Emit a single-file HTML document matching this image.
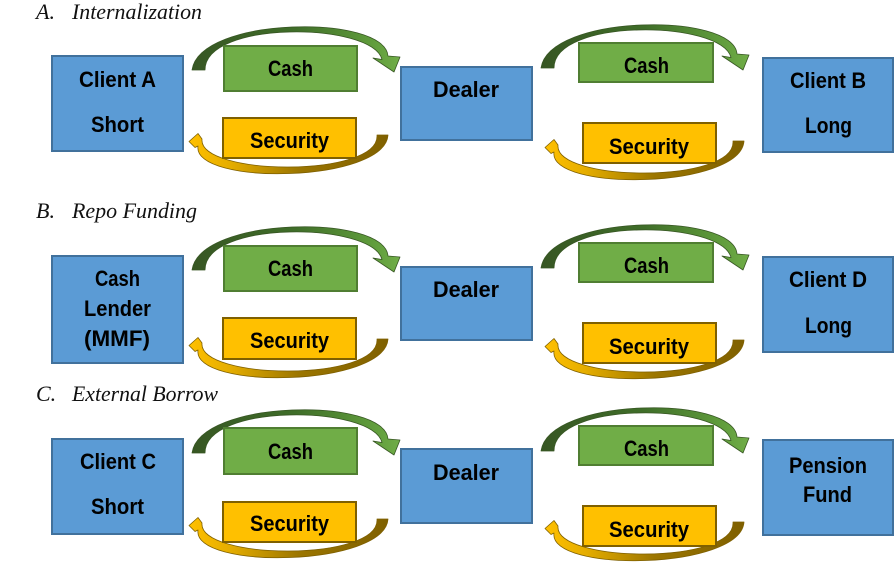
<!DOCTYPE html>
<html>
<head>
<meta charset="utf-8">
<style>
  html, body { margin:0; padding:0; background:#fff; }
  svg { display:block; }
  .t { font-family:"Liberation Serif", serif; font-style:italic; font-size:22px; fill:#111; }
  .b { font-family:"Liberation Sans", sans-serif; font-weight:bold; font-size:22px; fill:#000; }
  .blue { fill:#5B9BD5; stroke:#41719C; stroke-width:2; }
  .green { fill:#70AD47; stroke:#507E32; stroke-width:2; }
  .gold { fill:#FFC000; stroke:#7F6000; stroke-width:2; }
</style>
</head>
<body>
<svg width="896" height="562" viewBox="0 0 896 562" xmlns="http://www.w3.org/2000/svg">
  <defs>
    <linearGradient id="gg" x1="0" y1="0" x2="1" y2="0">
      <stop offset="0" stop-color="#375623"/>
      <stop offset="0.5" stop-color="#3F6E29"/>
      <stop offset="0.85" stop-color="#5E9A3B"/>
      <stop offset="1" stop-color="#70AD47"/>
    </linearGradient>
    <linearGradient id="yg" x1="0" y1="0" x2="1" y2="0">
      <stop offset="0" stop-color="#FFC000"/>
      <stop offset="0.2" stop-color="#E6AE00"/>
      <stop offset="0.55" stop-color="#9C7600"/>
      <stop offset="1" stop-color="#7F6000"/>
    </linearGradient>
    <path id="topArrow" fill="url(#gg)" stroke="#375623" stroke-width="0.8" stroke-linejoin="round"
      d="M192 70 C200 16 385 14 388 56 L400 57 L394 72 L373 58 L382 59.5 C372 22 205 20 205 70 Z"/>
    <path id="botArrow" fill="url(#yg)" stroke="#7F6000" stroke-width="0.8" stroke-linejoin="round"
      d="M377 135 L388 135 C385 183 192 186 198 146 L195 147.5 L189 141.5 L198 133.5 L202 139 C198 176 380 178 377 135 Z"/>
  </defs>

  <!-- Titles -->
  <text class="t" x="36" y="19">A.</text>
  <text class="t" x="72" y="19" textLength="130" lengthAdjust="spacingAndGlyphs">Internalization</text>
  <text class="t" x="36" y="218">B.</text>
  <text class="t" x="72" y="218" textLength="125" lengthAdjust="spacingAndGlyphs">Repo Funding</text>
  <text class="t" x="36" y="401">C.</text>
  <text class="t" x="72" y="401" textLength="146" lengthAdjust="spacingAndGlyphs">External Borrow</text>

  <!-- Panel A -->
  <g>
    <use href="#topArrow"/>
    <use href="#botArrow"/>
    <use href="#topArrow" transform="translate(349,-2)"/>
    <use href="#botArrow" transform="translate(356,6)"/>
    <rect class="blue" x="52" y="56" width="131" height="95"/>
    <rect class="green" x="224" y="46" width="133" height="45"/>
    <rect class="gold" x="223" y="118" width="133" height="40"/>
    <rect class="blue" x="401" y="67" width="131" height="73"/>
    <rect class="green" x="579" y="43" width="134" height="39"/>
    <rect class="gold" x="583" y="123" width="133" height="40"/>
    <rect class="blue" x="763" y="58" width="130" height="94"/>
    <text class="b" x="79" y="87" textLength="77" lengthAdjust="spacingAndGlyphs">Client A</text>
    <text class="b" x="91" y="132" textLength="53" lengthAdjust="spacingAndGlyphs">Short</text>
    <text class="b" x="268" y="76" textLength="45" lengthAdjust="spacingAndGlyphs">Cash</text>
    <text class="b" x="250" y="148" textLength="79" lengthAdjust="spacingAndGlyphs">Security</text>
    <text class="b" x="433" y="97" textLength="66" lengthAdjust="spacingAndGlyphs">Dealer</text>
    <text class="b" x="624" y="73" textLength="45" lengthAdjust="spacingAndGlyphs">Cash</text>
    <text class="b" x="609" y="154" textLength="80" lengthAdjust="spacingAndGlyphs">Security</text>
    <text class="b" x="790" y="88" textLength="76" lengthAdjust="spacingAndGlyphs">Client B</text>
    <text class="b" x="805" y="133" textLength="47" lengthAdjust="spacingAndGlyphs">Long</text>
  </g>

  <!-- Panel B -->
  <g transform="translate(0,200)">
    <use href="#topArrow"/>
    <use href="#botArrow" transform="translate(0,4)"/>
    <use href="#topArrow" transform="translate(349,-2)"/>
    <use href="#botArrow" transform="translate(356,5)"/>
    <rect class="blue" x="52" y="56" width="131" height="107"/>
    <rect class="green" x="224" y="46" width="133" height="45"/>
    <rect class="gold" x="223" y="118" width="133" height="41"/>
    <rect class="blue" x="401" y="67" width="131" height="73"/>
    <rect class="green" x="579" y="43" width="134" height="39"/>
    <rect class="gold" x="583" y="123" width="133" height="40"/>
    <rect class="blue" x="763" y="57" width="130" height="95"/>
    <text class="b" x="95" y="86" textLength="45" lengthAdjust="spacingAndGlyphs">Cash</text>
    <text class="b" x="84" y="116" textLength="67" lengthAdjust="spacingAndGlyphs">Lender</text>
    <text class="b" x="84" y="146" textLength="66" lengthAdjust="spacingAndGlyphs">(MMF)</text>
    <text class="b" x="268" y="76" textLength="45" lengthAdjust="spacingAndGlyphs">Cash</text>
    <text class="b" x="250" y="148" textLength="79" lengthAdjust="spacingAndGlyphs">Security</text>
    <text class="b" x="433" y="97" textLength="66" lengthAdjust="spacingAndGlyphs">Dealer</text>
    <text class="b" x="624" y="73" textLength="45" lengthAdjust="spacingAndGlyphs">Cash</text>
    <text class="b" x="609" y="154" textLength="80" lengthAdjust="spacingAndGlyphs">Security</text>
    <text class="b" x="789" y="87" textLength="78" lengthAdjust="spacingAndGlyphs">Client D</text>
    <text class="b" x="805" y="133" textLength="47" lengthAdjust="spacingAndGlyphs">Long</text>
  </g>

  <!-- Panel C -->
  <g transform="translate(0,383)">
    <use href="#topArrow"/>
    <use href="#botArrow" transform="translate(0,1)"/>
    <use href="#topArrow" transform="translate(349,-2)"/>
    <use href="#botArrow" transform="translate(356,4)"/>
    <rect class="blue" x="52" y="56" width="131" height="95"/>
    <rect class="green" x="224" y="45" width="133" height="46"/>
    <rect class="gold" x="223" y="119" width="133" height="40"/>
    <rect class="blue" x="401" y="66" width="131" height="74"/>
    <rect class="green" x="579" y="43" width="134" height="39"/>
    <rect class="gold" x="583" y="123" width="133" height="40"/>
    <rect class="blue" x="763" y="57" width="130" height="95"/>
    <text class="b" x="80" y="86" textLength="76" lengthAdjust="spacingAndGlyphs">Client C</text>
    <text class="b" x="91" y="131" textLength="53" lengthAdjust="spacingAndGlyphs">Short</text>
    <text class="b" x="268" y="76" textLength="45" lengthAdjust="spacingAndGlyphs">Cash</text>
    <text class="b" x="250" y="148" textLength="79" lengthAdjust="spacingAndGlyphs">Security</text>
    <text class="b" x="433" y="97" textLength="66" lengthAdjust="spacingAndGlyphs">Dealer</text>
    <text class="b" x="624" y="73" textLength="45" lengthAdjust="spacingAndGlyphs">Cash</text>
    <text class="b" x="609" y="154" textLength="80" lengthAdjust="spacingAndGlyphs">Security</text>
    <text class="b" x="789" y="90" textLength="78" lengthAdjust="spacingAndGlyphs">Pension</text>
    <text class="b" x="803" y="119" textLength="49" lengthAdjust="spacingAndGlyphs">Fund</text>
  </g>
</svg>
</body>
</html>
